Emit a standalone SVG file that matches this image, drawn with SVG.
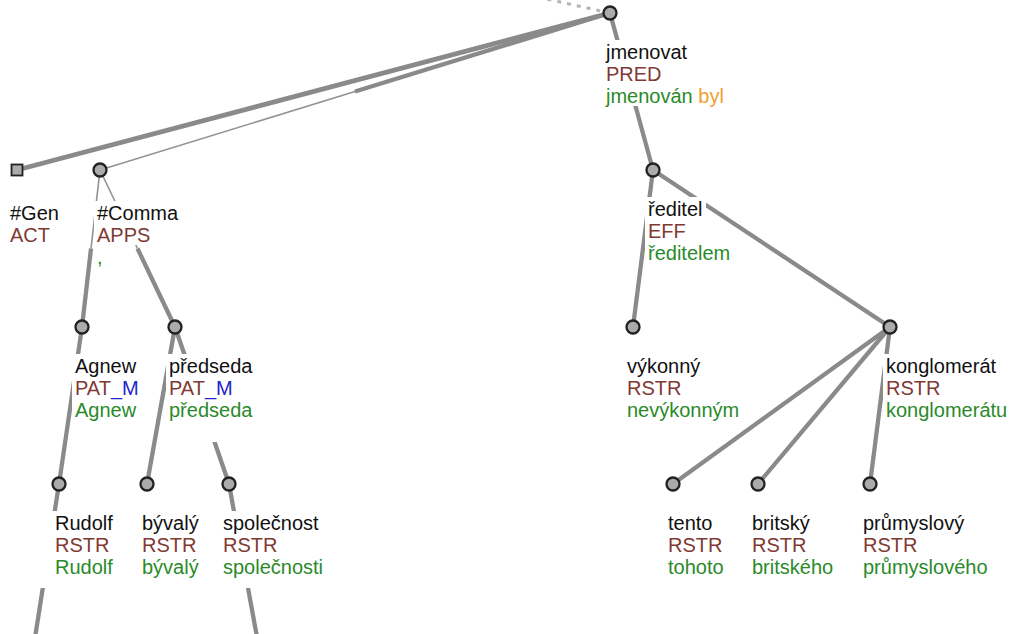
<svg xmlns="http://www.w3.org/2000/svg" width="1019" height="634" viewBox="0 0 1019 634">
<style>
  .e{stroke:#8a8a8a;stroke-width:4.3;fill:none}
  .t{stroke:#929292;stroke-width:1.6;fill:none}
  .d{stroke:#b4b4b4;stroke-width:3;stroke-dasharray:4 6;fill:none}
  .bg{fill:#ffffff}
  .nd{fill:#ababab;stroke:#222;stroke-width:2.3}
  text{font-family:"Liberation Sans",Arial,sans-serif;font-size:20px}
  .n{fill:#111}
  .f{fill:#7f3a33}
  .m{fill:#2323c8}
  .g{fill:#2a8a2a}
  .o{fill:#f0a030}
</style>
<rect width="1019" height="634" fill="#ffffff"/>
<g id="connectors">
  <line class="d" x1="610" y1="13" x2="515" y2="-8"/>
  <line class="e" x1="17" y1="170" x2="610" y2="13" style="stroke-width:4.8"/>
  <line class="t" x1="100" y1="170" x2="355" y2="91.5"/>
  <line class="e" x1="355" y1="91.5" x2="610" y2="13"/>
  <line class="e" x1="610" y1="13" x2="653" y2="170"/>
  <line class="t" x1="100" y1="170" x2="91" y2="248.5"/>
  <line class="e" x1="91" y1="248.5" x2="82" y2="327"/>
  <line class="t" x1="100" y1="170" x2="137.5" y2="248.5"/>
  <line class="e" x1="137.5" y1="248.5" x2="175" y2="327"/>
  <line class="e" x1="82" y1="327" x2="59" y2="484"/>
  <line class="e" x1="175" y1="327" x2="147" y2="484"/>
  <line class="e" x1="175" y1="327" x2="229" y2="484"/>
  <line class="e" x1="59" y1="484" x2="30" y2="670"/>
  <line class="e" x1="229" y1="484" x2="263" y2="670"/>
  <line class="e" x1="653" y1="170" x2="633" y2="327"/>
  <line class="e" x1="653" y1="170" x2="890" y2="327"/>
  <line class="e" x1="890" y1="327" x2="673" y2="484"/>
  <line class="e" x1="890" y1="327" x2="758" y2="484"/>
  <line class="e" x1="890" y1="327" x2="870" y2="484"/>
</g>
<g id="n-jmenovat">
  <rect class="bg" x="603" y="40" width="87" height="22"/>
  <rect class="bg" x="603" y="62" width="62" height="22"/>
  <rect class="bg" x="603" y="84" width="124" height="22"/>
  <text x="606" y="59" class="n">jmenovat</text>
  <text x="606" y="81" class="f">PRED</text>
  <text x="606" y="103"><tspan class="g">jmenován</tspan><tspan class="o"> byl</tspan></text>
  <circle class="nd" cx="610" cy="13" r="6.5"/>
</g>
<g id="n-gen">
  <rect class="bg" x="7" y="201" width="55" height="22"/>
  <rect class="bg" x="7" y="223" width="46" height="22"/>
  <text x="10" y="220" class="n">#Gen</text>
  <text x="10" y="242" class="f">ACT</text>
  <rect class="nd" x="11.5" y="164.5" width="11" height="11" style="stroke-width:1.8"/>
</g>
<g id="n-comma">
  <rect class="bg" x="94" y="201" width="87" height="22"/>
  <rect class="bg" x="94" y="223" width="59" height="22"/>
  <rect class="bg" x="94" y="245" width="10" height="22"/>
  <text x="97" y="220" class="n">#Comma</text>
  <text x="97" y="242" class="f">APPS</text>
  <text x="97" y="264" class="g">,</text>
  <circle class="nd" cx="100" cy="170" r="6.5"/>
</g>
<g id="n-reditel">
  <rect class="bg" x="645" y="197" width="61" height="22"/>
  <rect class="bg" x="645" y="219" width="44" height="22"/>
  <rect class="bg" x="645" y="241" width="88" height="22"/>
  <text x="648" y="216" class="n">ředitel</text>
  <text x="648" y="238" class="f">EFF</text>
  <text x="648" y="260" class="g">ředitelem</text>
  <circle class="nd" cx="653" cy="170" r="6.5"/>
</g>
<g id="n-agnew">
  <rect class="bg" x="72" y="354" width="67" height="22"/>
  <rect class="bg" x="72" y="376" width="73" height="22"/>
  <rect class="bg" x="72" y="398" width="67" height="22"/>
  <text x="75" y="373" class="n">Agnew</text>
  <text x="75" y="395"><tspan class="f">PAT</tspan><tspan class="m">_M</tspan></text>
  <text x="75" y="417" class="g">Agnew</text>
  <circle class="nd" cx="82" cy="327" r="6.5"/>
</g>
<g id="n-predseda">
  <rect class="bg" x="166" y="354" width="89" height="22"/>
  <rect class="bg" x="166" y="376" width="73" height="22"/>
  <rect class="bg" x="166" y="398" width="89" height="44"/>
  <text x="169" y="373" class="n">předseda</text>
  <text x="169" y="395"><tspan class="f">PAT</tspan><tspan class="m">_M</tspan></text>
  <text x="169" y="417" class="g">předseda</text>
  <circle class="nd" cx="175" cy="327" r="6.5"/>
</g>
<g id="n-vykonny">
  <rect class="bg" x="624" y="354" width="79" height="22"/>
  <rect class="bg" x="624" y="376" width="60" height="22"/>
  <rect class="bg" x="624" y="398" width="118" height="22"/>
  <text x="627" y="373" class="n">výkonný</text>
  <text x="627" y="395" class="f">RSTR</text>
  <text x="627" y="417" class="g">nevýkonným</text>
  <circle class="nd" cx="633" cy="327" r="6.5"/>
</g>
<g id="n-konglomerat">
  <rect class="bg" x="883" y="354" width="116" height="22"/>
  <rect class="bg" x="883" y="376" width="60" height="22"/>
  <rect class="bg" x="883" y="398" width="127" height="22"/>
  <text x="886" y="373" class="n">konglomerát</text>
  <text x="886" y="395" class="f">RSTR</text>
  <text x="886" y="417" class="g">konglomerátu</text>
  <circle class="nd" cx="890" cy="327" r="6.5"/>
</g>
<g id="n-rudolf">
  <rect class="bg" x="40" y="511" width="76" height="22"/>
  <rect class="bg" x="40" y="533" width="72" height="22"/>
  <rect class="bg" x="40" y="555" width="76" height="33"/>
  <text x="55" y="530" class="n">Rudolf</text>
  <text x="55" y="552" class="f">RSTR</text>
  <text x="55" y="574" class="g">Rudolf</text>
  <circle class="nd" cx="59" cy="484" r="6.5"/>
</g>
<g id="n-byvaly">
  <rect class="bg" x="139" y="511" width="63" height="22"/>
  <rect class="bg" x="139" y="533" width="60" height="22"/>
  <rect class="bg" x="139" y="555" width="63" height="22"/>
  <text x="142" y="530" class="n">bývalý</text>
  <text x="142" y="552" class="f">RSTR</text>
  <text x="142" y="574" class="g">bývalý</text>
  <circle class="nd" cx="147" cy="484" r="6.5"/>
</g>
<g id="n-spolecnost">
  <rect class="bg" x="220" y="511" width="102" height="22"/>
  <rect class="bg" x="220" y="533" width="60" height="22"/>
  <rect class="bg" x="220" y="555" width="106" height="33"/>
  <text x="223" y="530" class="n">společnost</text>
  <text x="223" y="552" class="f">RSTR</text>
  <text x="223" y="574" class="g">společnosti</text>
  <circle class="nd" cx="229" cy="484" r="6.5"/>
</g>
<g id="n-tento">
  <rect class="bg" x="665" y="511" width="51" height="22"/>
  <rect class="bg" x="665" y="533" width="60" height="22"/>
  <rect class="bg" x="665" y="555" width="62" height="22"/>
  <text x="668" y="530" class="n">tento</text>
  <text x="668" y="552" class="f">RSTR</text>
  <text x="668" y="574" class="g">tohoto</text>
  <circle class="nd" cx="673" cy="484" r="6.5"/>
</g>
<g id="n-britsky">
  <rect class="bg" x="749" y="511" width="64" height="22"/>
  <rect class="bg" x="749" y="533" width="60" height="22"/>
  <rect class="bg" x="749" y="555" width="87" height="22"/>
  <text x="752" y="530" class="n">britský</text>
  <text x="752" y="552" class="f">RSTR</text>
  <text x="752" y="574" class="g">britského</text>
  <circle class="nd" cx="758" cy="484" r="6.5"/>
</g>
<g id="n-prumyslovy">
  <rect class="bg" x="860" y="511" width="107" height="22"/>
  <rect class="bg" x="860" y="533" width="60" height="22"/>
  <rect class="bg" x="860" y="555" width="131" height="22"/>
  <text x="863" y="530" class="n">průmyslový</text>
  <text x="863" y="552" class="f">RSTR</text>
  <text x="863" y="574" class="g">průmyslového</text>
  <circle class="nd" cx="870" cy="484" r="6.5"/>
</g>
</svg>
